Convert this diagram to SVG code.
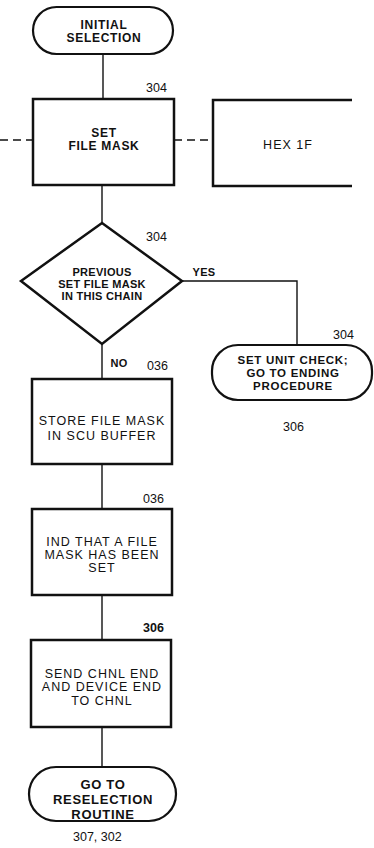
<svg xmlns="http://www.w3.org/2000/svg" width="374" height="848" viewBox="0 0 374 848">
<style>
.box{fill:#fff;stroke:#111;stroke-width:2.5}
.term{fill:#fff;stroke:#111;stroke-width:2.2}
.ln{fill:none;stroke:#111;stroke-width:1.4}
.dash{fill:none;stroke:#111;stroke-width:1.4;stroke-dasharray:8 5}
text{font-family:"Liberation Sans",Arial,sans-serif;fill:#111;text-anchor:middle}
.b{font-weight:bold;font-size:12px;letter-spacing:0.7px}
.r{font-size:12.5px;letter-spacing:1px}
.d{font-weight:bold;font-size:11px;letter-spacing:0.3px}
.n{font-size:12.5px;text-anchor:start}
</style>
<rect width="374" height="848" fill="#fff"/>
<g id="connectors">
<line class="ln" x1="103" y1="54" x2="103" y2="99"/>
<line class="dash" x1="0" y1="140" x2="33" y2="140"/>
<line class="dash" x1="174" y1="140" x2="213" y2="140"/>
<line class="ln" x1="102" y1="185" x2="102" y2="223"/>
<polyline class="ln" points="182,281 297,281 297,345"/>
<line class="ln" x1="102" y1="344" x2="102" y2="379"/>
<line class="ln" x1="102" y1="464" x2="102" y2="509"/>
<line class="ln" x1="102" y1="595" x2="102" y2="640"/>
<line class="ln" x1="102" y1="727" x2="102" y2="767"/>
<text class="d" x="204" y="276">YES</text>
<text class="d" x="119" y="367">NO</text>
</g>
<g id="initial">
<rect class="term" x="33" y="7" width="140" height="47" rx="23.5"/>
<text class="b" x="104" y="29">INITIAL</text>
<text class="b" x="104" y="42">SELECTION</text>
</g>
<g id="setmask">
<text class="n" x="146" y="92">304</text>
<rect class="box" x="33" y="99" width="141" height="86"/>
<text class="b" x="104" y="137">SET</text>
<text class="b" x="104" y="150">FILE MASK</text>
</g>
<g id="hex">
<polyline class="box" style="fill:#fff" points="352,100 213,100 213,186 352,186"/>
<text class="r" x="288" y="149">HEX 1F</text>
</g>
<g id="decision">
<text class="n" x="146" y="241">304</text>
<polygon class="box" points="102,223 182,281 102,344 21,281"/>
<text class="d" x="102" y="276">PREVIOUS</text>
<text class="d" x="102" y="288">SET FILE MASK</text>
<text class="d" x="102" y="300">IN THIS CHAIN</text>
</g>
<g id="unitcheck">
<text class="n" x="333" y="339">304</text>
<rect class="term" x="212" y="345" width="160" height="55" rx="26"/>
<text class="b" x="293" y="364" style="font-size:11.5px">SET UNIT CHECK;</text>
<text class="b" x="293" y="377" style="font-size:11.5px">GO TO ENDING</text>
<text class="b" x="293" y="390" style="font-size:11.5px">PROCEDURE</text>
<text class="n" x="283" y="431">306</text>
</g>
<g id="store">
<text class="n" x="147" y="370">036</text>
<rect class="box" x="32" y="379" width="140" height="85"/>
<text class="r" x="102" y="425">STORE FILE MASK</text>
<text class="r" x="102" y="440">IN SCU BUFFER</text>
</g>
<g id="ind">
<text class="n" x="143" y="503">036</text>
<rect class="box" x="32" y="509" width="140" height="86"/>
<text class="r" x="102" y="546">IND THAT A FILE</text>
<text class="r" x="102" y="559">MASK HAS BEEN</text>
<text class="r" x="102" y="572">SET</text>
</g>
<g id="send">
<text class="n" x="143" y="632" font-weight="bold">306</text>
<rect class="box" x="31" y="640" width="140" height="87"/>
<text class="r" x="102" y="678">SEND CHNL END</text>
<text class="r" x="102" y="691">AND DEVICE END</text>
<text class="r" x="102" y="705">TO CHNL</text>
</g>
<g id="reselect">
<rect class="term" x="29" y="767" width="147" height="54" rx="27"/>
<text class="b" x="103" y="789" style="font-size:13px">GO TO</text>
<text class="b" x="103" y="804" style="font-size:13px">RESELECTION</text>
<text class="b" x="103" y="819" style="font-size:13px">ROUTINE</text>
<text class="n" x="73" y="841">307, 302</text>
</g>
</svg>
